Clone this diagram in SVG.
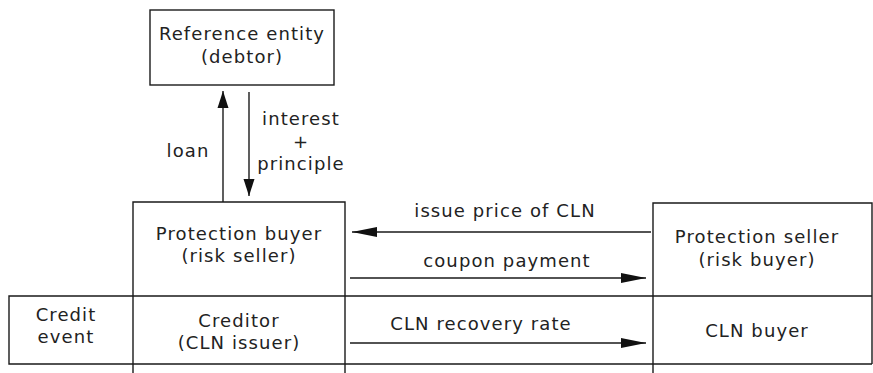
<svg xmlns="http://www.w3.org/2000/svg" width="873" height="373" viewBox="0 0 873 373">
  <defs>
    <style>
      .box { fill: none; stroke: #1a1a1a; stroke-width: 1.4; }
      .edge { fill: none; stroke: #1a1a1a; stroke-width: 1.4; }
      text { font-family: "DejaVu Sans", Verdana, sans-serif; font-size: 18px; fill: #222; letter-spacing: 1.1px; text-anchor: middle; }
    </style>
    <marker id="head-h" markerUnits="userSpaceOnUse" markerWidth="26" markerHeight="12" refX="25" refY="6" orient="auto">
      <path d="M0,1 L25,6 L0,11 Z" fill="#111"/>
    </marker>
    <marker id="head-v" markerUnits="userSpaceOnUse" markerWidth="18" markerHeight="12" refX="17" refY="6" orient="auto">
      <path d="M0,0.5 L17,6 L0,11.5 Z" fill="#111"/>
    </marker>
  </defs>

  <g id="reference-entity">
    <rect class="box" x="150" y="10" width="184" height="75"/>
    <text x="242" y="40">Reference entity</text>
    <text x="242" y="63">(debtor)</text>
  </g>

  <g id="protection-buyer">
    <path class="box" d="M133,373 V202 H345 V373"/>
    <text x="239" y="240">Protection buyer</text>
    <text x="239" y="262">(risk seller)</text>
  </g>

  <g id="protection-seller">
    <path class="box" d="M653,373 V203 H872 V364"/>
    <text x="757" y="243">Protection seller</text>
    <text x="757" y="266">(risk buyer)</text>
  </g>

  <g id="credit-event">
    <path class="box" d="M133,296 H9 V364 H133"/>
    <text x="66" y="321">Credit</text>
    <text x="66" y="343">event</text>
  </g>

  <g id="creditor">
    <path class="box" d="M133,296 H345 M133,364 H345"/>
    <text x="239" y="327">Creditor</text>
    <text x="239" y="349">(CLN issuer)</text>
  </g>

  <g id="cln-buyer">
    <path class="box" d="M653,296 H872 M653,364 H872"/>
    <text x="757" y="337">CLN buyer</text>
  </g>

  <g id="row-lines">
    <path class="box" d="M345,296 H653 M345,364 H653"/>
  </g>

  <g id="connectors">
    <line class="edge" x1="223" y1="202" x2="223" y2="91" marker-end="url(#head-v)"/>
    <line class="edge" x1="249" y1="92" x2="249" y2="196" marker-end="url(#head-v)"/>
    <line class="edge" x1="651" y1="232" x2="352" y2="232" marker-end="url(#head-h)"/>
    <line class="edge" x1="350" y1="278" x2="646" y2="278" marker-end="url(#head-h)"/>
    <line class="edge" x1="350" y1="343" x2="646" y2="343" marker-end="url(#head-h)"/>
    <text x="188" y="157">loan</text>
    <text x="301" y="125">interest</text>
    <text x="301" y="148">+</text>
    <text x="301" y="170">principle</text>
    <text x="505" y="217">issue price of CLN</text>
    <text x="507" y="267">coupon payment</text>
    <text x="481" y="330">CLN recovery rate</text>
  </g>
</svg>
